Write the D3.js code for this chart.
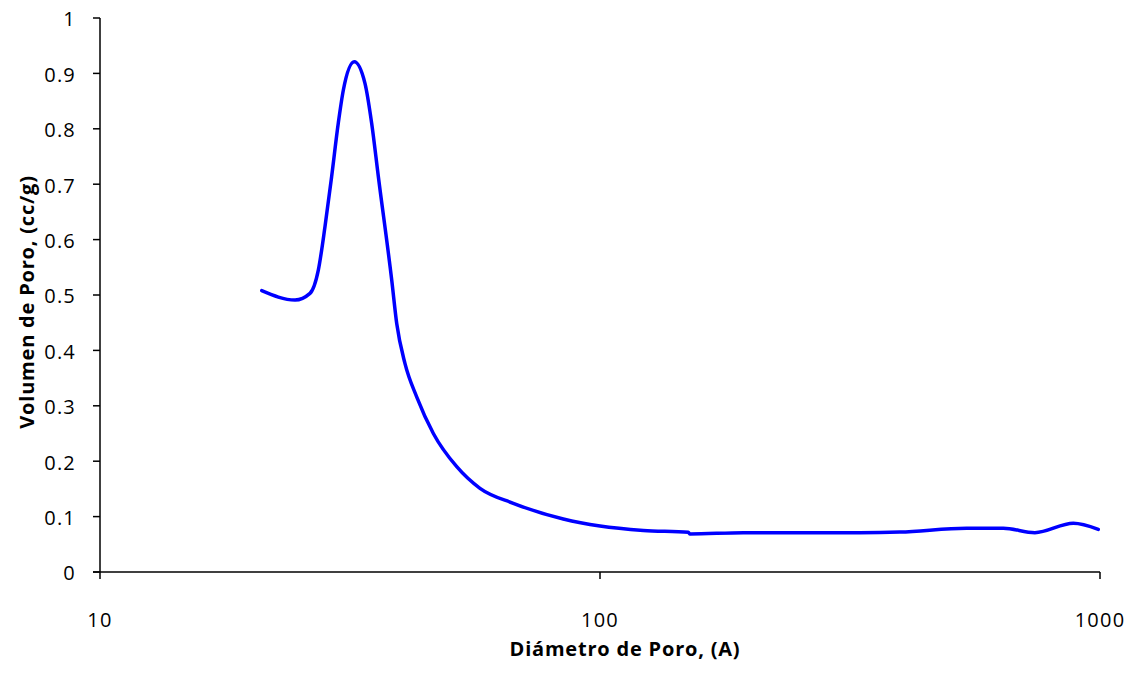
<!DOCTYPE html>
<meta charset="utf-8">
<style>
    body { margin: 0; background: #fff; }
    .tick-label { font-family: 'Open Sans', sans-serif;
                  font-size: 20px;
                  letter-spacing: 1.2px;
                  fill: #000; }
    .axis-title { font-family: 'Open Sans', sans-serif;
                  font-size: 20px;
                  font-weight: bold;
                  letter-spacing: 0.8px;
                  fill: #000; }
    .axis-line { stroke: #000; stroke-width: 1.5px; }
    .pore-line { fill: none;
                 stroke: #0000ff;
                 stroke-width: 3.5px;
                 stroke-linejoin: round;
                 stroke-linecap: round; }
</style>
<body>
<div id="chart"></div>
<script src="https://d3js.org/d3.v7.min.js"></script>
<script>
    var width = 1140,
        height = 674;

    // pore diameter (A) and pore volume (cc/g)
    var poreDiameter = [21.06, 24.55, 26.30, 27.33, 28.18, 29.06, 29.96, 30.67, 32.25, 33.88,
                        34.94, 36.03, 38.32, 39.22, 40.74, 42.99, 46.42, 51.70, 57.54, 67.08,
                        84.45, 100, 122.1, 150.2, 151.4, 193.5, 331, 398, 541, 640.8,
                        741, 884.6, 992];
    var poreVolume = [0.508, 0.491, 0.503, 0.545, 0.623, 0.714, 0.810, 0.870, 0.921, 0.882,
                      0.810, 0.714, 0.527, 0.448, 0.376, 0.316, 0.250, 0.190, 0.151, 0.124,
                      0.0957, 0.083, 0.075, 0.0716, 0.0686, 0.071, 0.071, 0.072, 0.079, 0.079,
                      0.071, 0.088, 0.077];

    var xTicks = [10, 100, 1000];
    var yTicks = [0, 0.1, 0.2, 0.3, 0.4, 0.5, 0.6, 0.7, 0.8, 0.9, 1];

    var xTitle = "Diámetro de Poro, (A)",
        yTitle = "Volumen de Poro, (cc/g)";

    var x = d3.scaleLog().domain([10, 1000]).range([100, 1100]);
    var y = d3.scaleLinear().domain([0, 1]).range([572, 18]);

    var svg = d3.select("#chart").append("svg")
        .attr("width", width)
        .attr("height", height);

    // y axis
    var yAxis = svg.append("g");
    yAxis.append("line")
        .attr("class", "axis-line")
        .attr("x1", x(10)).attr("x2", x(10))
        .attr("y1", y(0)).attr("y2", y(1));
    yAxis.selectAll(".ytick")
        .data(yTicks)
        .enter().append("line")
        .attr("class", "axis-line")
        .attr("x1", x(10) - 7).attr("x2", x(10))
        .attr("y1", d => y(d)).attr("y2", d => y(d));
    yAxis.selectAll(".ylabel")
        .data(yTicks)
        .enter().append("text")
        .attr("class", "tick-label")
        .attr("x", x(10) - 24)
        .attr("y", d => y(d))
        .attr("dy", "0.42em")
        .attr("text-anchor", "end")
        .text(d => d3.format("~g")(d));

    // x axis
    var xAxis = svg.append("g");
    xAxis.append("line")
        .attr("class", "axis-line")
        .attr("x1", x(10) - 7).attr("x2", x(1000))
        .attr("y1", y(0)).attr("y2", y(0));
    xAxis.selectAll(".xtick")
        .data(xTicks)
        .enter().append("line")
        .attr("class", "axis-line")
        .attr("x1", d => x(d)).attr("x2", d => x(d))
        .attr("y1", y(0)).attr("y2", y(0) + 7);
    xAxis.selectAll(".xlabel")
        .data(xTicks)
        .enter().append("text")
        .attr("class", "tick-label")
        .attr("x", d => x(d))
        .attr("y", 627)
        .attr("text-anchor", "middle")
        .text(d => d);

    svg.append("text")
        .attr("class", "axis-title")
        .attr("x", 625)
        .attr("y", 656)
        .attr("text-anchor", "middle")
        .text(xTitle);

    svg.append("text")
        .attr("class", "axis-title")
        .attr("transform", "translate(34,302) rotate(-90)")
        .attr("text-anchor", "middle")
        .text(yTitle);

    // pore volume curve
    var points = poreDiameter.map((d, i) => [d, poreVolume[i]]);
    var line = d3.line()
        .x(d => x(d[0]))
        .y(d => y(d[1]))
        .curve(d3.curveMonotoneX);

    svg.append("path")
        .datum(points)
        .attr("class", "pore-line")
        .attr("d", line);
</script>
</body>
